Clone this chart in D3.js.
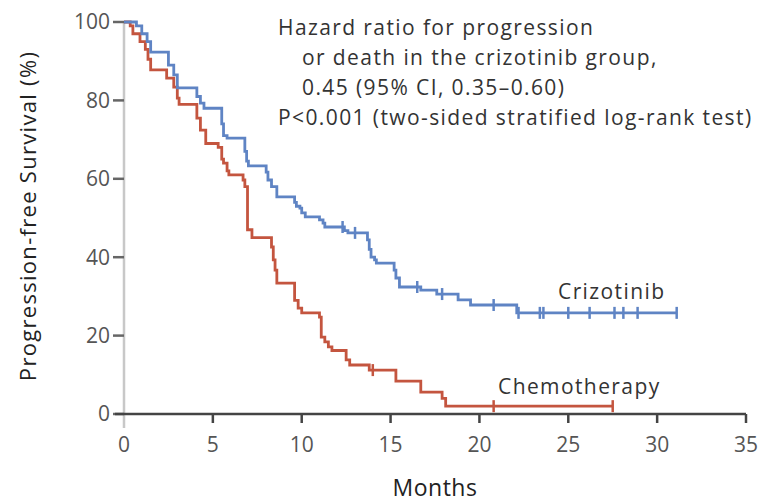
<!DOCTYPE html>
<html lang="en">
<head>
<meta charset="UTF-8">
<title>Progression-free Survival</title>
<script src="https://d3js.org/d3.v7.min.js"></script>
<style>
  body { margin: 0; background: #fff; }
  svg text { font-family: "Open Sans", Lato, sans-serif; }
  .tick-label { font-size: 21px; fill: #555; }
  .note { font-size: 21px; fill: #333; letter-spacing: 1.4px; }
</style>
</head>
<body>
<div id="chart"></div>
<script>
// step times (months) and survival (%) after each step
const crizoTimes = [0, 0.7, 1.0, 1.3, 1.5, 2.5, 2.8, 3.0, 4.1, 4.3, 4.5, 5.5, 5.6, 5.8, 6.8, 6.9, 7.0, 8.0, 8.1, 8.3, 8.6, 9.6, 9.7, 9.9, 10.0, 10.2, 11.0, 11.2, 11.3, 12.4, 12.6, 13.7, 13.8, 13.9, 14.1, 14.2, 15.2, 15.3, 15.5, 16.7, 17.6, 18.8, 19.5, 22.1, 31.1];
const crizoSurv = [100, 99, 97, 95, 92.3, 89, 86.5, 83.2, 81, 79.3, 78, 74, 71, 70.4, 67, 64.5, 63.3, 61.7, 59.7, 58, 55.4, 54, 53, 52.5, 51.3, 50.3, 49.5, 48.7, 47.7, 46.8, 46.2, 44.4, 42, 40, 39.3, 38.5, 36.7, 34.7, 32.4, 31.6, 30.6, 29.1, 27.8, 25.8, 25.8];
const crizoCensor = [12.3, 13.0, 16.5, 17.9, 20.8, 22.2, 23.4, 23.6, 25.0, 26.2, 27.6, 28.1, 28.9, 31.1];

const chemoTimes = [0, 0.35, 0.5, 0.9, 1.2, 1.35, 1.5, 2.4, 2.8, 3.0, 3.1, 4.1, 4.3, 4.6, 5.3, 5.5, 5.6, 5.8, 5.9, 6.7, 6.8, 6.95, 7.2, 8.3, 8.4, 8.5, 8.6, 9.6, 9.8, 10.0, 11.0, 11.1, 11.3, 11.5, 11.7, 12.5, 12.7, 13.8, 15.3, 16.7, 17.9, 18.1, 27.5];
const chemoSurv = [100, 99, 97, 95, 93, 90.5, 87.8, 85.7, 83.4, 80.6, 79, 75.5, 72.4, 69, 68, 65, 64, 62, 61, 59.7, 58, 47, 45, 42.6, 39.3, 36.7, 33.4, 29, 27, 25.8, 24.7, 19.6, 18.4, 17.1, 16.2, 13.8, 12.5, 11.2, 8.4, 5.6, 4, 2.0, 2.0];
const chemoCensor = [14.0, 20.8, 27.5];

const xTicks = [0, 5, 10, 15, 20, 25, 30, 35];
const yTicks = [0, 20, 40, 60, 80, 100];

const noteLines = [
  "Hazard ratio for progression",
  "or death in the crizotinib group,",
  "0.45 (95% CI, 0.35\u20130.60)",
  "P<0.001 (two-sided stratified log-rank test)"
];

const width = 759, height = 503;
const margin = { top: 22, right: 13, bottom: 89, left: 124 };

const x = d3.scaleLinear().domain([0, 35]).range([margin.left, width - margin.right]);
const y = d3.scaleLinear().domain([0, 100]).range([height - margin.bottom, margin.top]);

const svg = d3.select("#chart").append("svg")
  .attr("width", width)
  .attr("height", height);

// y axis (light line, dark ticks)
svg.append("line")
  .attr("x1", x(0)).attr("x2", x(0))
  .attr("y1", y(100)).attr("y2", y(0) + 14)
  .attr("stroke", "#c8c8c8").attr("stroke-width", 2.5);

svg.selectAll(".ytick").data(yTicks).enter().append("line")
  .attr("x1", x(0) - 11).attr("x2", x(0))
  .attr("y1", d => y(d)).attr("y2", d => y(d))
  .attr("stroke", "#666").attr("stroke-width", 2.5);

svg.selectAll(".ylab").data(yTicks).enter().append("text")
  .attr("class", "tick-label")
  .attr("x", x(0) - 14).attr("y", d => y(d))
  .attr("dy", "0.35em")
  .attr("text-anchor", "end")
  .text(d => d);

// x axis
svg.append("line")
  .attr("x1", x(0) - 9).attr("x2", x(35))
  .attr("y1", y(0)).attr("y2", y(0))
  .attr("stroke", "#444").attr("stroke-width", 2.5);

svg.selectAll(".xtick").data(xTicks.slice(1)).enter().append("line")
  .attr("x1", d => x(d)).attr("x2", d => x(d))
  .attr("y1", y(0)).attr("y2", y(0) + 9)
  .attr("stroke", "#444").attr("stroke-width", 2.5);

svg.selectAll(".xlab").data(xTicks).enter().append("text")
  .attr("class", "tick-label")
  .attr("x", d => x(d)).attr("y", y(0) + 38)
  .attr("text-anchor", "middle")
  .text(d => d);

svg.append("text")
  .attr("x", (x(0) + x(35)) / 2).attr("y", 496)
  .attr("text-anchor", "middle")
  .attr("font-size", 23).attr("fill", "#222")
  .attr("letter-spacing", "0.5px")
  .text("Months");

svg.append("text")
  .attr("transform", `translate(36,${(y(0) + y(100)) / 2 - 2}) rotate(-90)`)
  .attr("text-anchor", "middle")
  .attr("font-size", 22).attr("fill", "#222")
  .attr("letter-spacing", "1.3px")
  .text("Progression-free Survival (%)");

// curves
const line = d3.line()
  .x(d => x(d[0]))
  .y(d => y(d[1]))
  .curve(d3.curveStepAfter);

function survAt(times, surv, t) {
  let s = surv[0];
  for (let i = 0; i < times.length; i++) if (times[i] <= t) s = surv[i];
  return s;
}

function drawCurve(times, surv, censor, color) {
  const pts = times.map((t, i) => [t, surv[i]]);
  svg.append("path")
    .datum(pts)
    .attr("d", line)
    .attr("fill", "none")
    .attr("stroke", color)
    .attr("stroke-width", 2.8);
  svg.selectAll(null).data(censor).enter().append("line")
    .attr("x1", d => x(d)).attr("x2", d => x(d))
    .attr("y1", d => y(survAt(times, surv, d)) - 6)
    .attr("y2", d => y(survAt(times, surv, d)) + 6)
    .attr("stroke", color).attr("stroke-width", 2.5);
}

drawCurve(chemoTimes, chemoSurv, chemoCensor, "#c4553f");
drawCurve(crizoTimes, crizoSurv, crizoCensor, "#5f84c4");

svg.append("text")
  .attr("class", "note")
  .attr("x", 558).attr("y", 299)
  .text("Crizotinib");

svg.append("text")
  .attr("class", "note")
  .attr("x", 498).attr("y", 394)
  .text("Chemotherapy");

// hazard ratio note
svg.selectAll(".hr").data(noteLines).enter().append("text")
  .attr("class", "note")
  .attr("x", (d, i) => (i === 0 || i === 3) ? 278 : 302)
  .attr("y", (d, i) => 35 + i * 30)
  .text(d => d);
</script>
</body>
</html>
